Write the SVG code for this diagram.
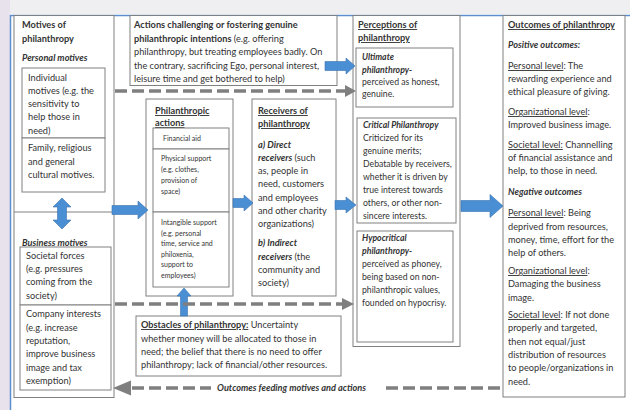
<svg xmlns="http://www.w3.org/2000/svg" width="630" height="410" viewBox="0 0 630 410">
<style>
.t{font-family:Lato,"Liberation Sans",sans-serif;font-size:9.2px;fill:#333}
.p{font-size:8.7px}
.s{font-size:7px}
.b{font-weight:700}
.i{font-style:italic}
.u{text-decoration:underline}
.box{fill:#fff;stroke:#808080;stroke-width:1}
.ar{fill:#4a8fd4;stroke:#3a72b0;stroke-width:0.6}
.dash{stroke:#7f7f7f;stroke-width:3.5;stroke-dasharray:12 5;fill:none}
.head{fill:#7f7f7f}
</style>
<rect x="0" y="0" width="630" height="410" fill="#fff"/>
<rect x="0" y="0" width="630" height="14" fill="#efeef1"/>
<rect x="0" y="0" width="10" height="410" fill="#e7e2ec"/>
<line x1="10" y1="15.5" x2="630" y2="15.5" stroke="#5b8fcf" stroke-width="1.5"/>
<line x1="10.5" y1="15" x2="10.5" y2="410" stroke="#5b8fcf" stroke-width="1.5"/>

<g id="motives">
<rect class="box" x="14" y="15.5" width="100" height="382"/>
<text class="t b" x="22" y="28">Motives of</text>
<text class="t b" x="22" y="42">philanthropy</text>
<text class="t b i" x="22" y="61">Personal motives</text>
<rect class="box" x="22" y="68" width="83" height="70"/>
<text class="t" x="28" y="81">Individual</text>
<text class="t" x="28" y="94">motives (e.g. the</text>
<text class="t" x="28" y="107">sensitivity to</text>
<text class="t" x="28" y="120">help those in</text>
<text class="t" x="28" y="134">need)</text>
<rect class="box" x="22" y="138" width="83" height="54"/>
<text class="t" x="28" y="151">Family, religious</text>
<text class="t" x="28" y="165">and general</text>
<text class="t" x="28" y="178">cultural motives.</text>
<line x1="14" y1="212" x2="114" y2="212" stroke="#808080" stroke-width="1"/>
<text class="t b i u" x="22" y="246">Business motives</text>
<rect class="box" x="20" y="247" width="91" height="58"/>
<text class="t" x="26" y="259">Societal forces</text>
<text class="t" x="26" y="272">(e.g. pressures</text>
<text class="t" x="26" y="285">coming from the</text>
<text class="t" x="26" y="299">society)</text>
<rect class="box" x="20" y="305" width="91" height="85"/>
<text class="t" x="26" y="317">Company interests</text>
<text class="t" x="26" y="331">(e.g. increase</text>
<text class="t" x="26" y="344">reputation,</text>
<text class="t" x="26" y="357">improve business</text>
<text class="t" x="26" y="371">image and tax</text>
<text class="t" x="26" y="384">exemption)</text>
</g>

<g id="actions-intentions">
<rect class="box" x="130" y="15.5" width="207" height="70"/>
<text class="t b" x="134" y="28">Actions challenging or fostering genuine</text>
<text class="t" x="134" y="42"><tspan class="b">philanthropic intentions</tspan> (e.g. offering</text>
<text class="t" x="134" y="55">philanthropy, but treating employees badly. On</text>
<text class="t" x="134" y="69">the contrary, sacrificing Ego, personal interest,</text>
<text class="t" x="134" y="82">leisure time and get bothered to help)</text>
</g>

<g id="philanthropic-actions">
<rect class="box" x="146" y="99" width="87" height="197"/>
<text class="t b u" x="155" y="114">Philanthropic</text>
<text class="t b u" x="155" y="126">actions</text>
<rect class="box" x="153" y="128" width="76" height="21"/>
<text class="t s" x="163" y="141">Financial aid</text>
<rect class="box" x="153" y="149" width="76" height="63"/>
<text class="t s" x="161" y="161">Physical support</text>
<text class="t s" x="161" y="172">(e.g. clothes,</text>
<text class="t s" x="161" y="183">provision of</text>
<text class="t s" x="161" y="194">space)</text>
<rect class="box" x="153" y="212" width="76" height="75"/>
<text class="t s" x="161" y="225">Intangible support</text>
<text class="t s" x="161" y="235.5">(e.g.  personal</text>
<text class="t s" x="161" y="246">time, service and</text>
<text class="t s" x="161" y="256.5">philoxenia,</text>
<text class="t s" x="161" y="267">support to</text>
<text class="t s" x="161" y="277.5">employees)</text>
</g>

<g id="receivers">
<rect class="box" x="252" y="99" width="84" height="197"/>
<text class="t b u" x="258" y="114">Receivers of</text>
<text class="t b u" x="258" y="127">philanthropy</text>
<text class="t b i" x="258" y="148">a) Direct</text>
<text class="t" x="258" y="161"><tspan class="b i">receivers</tspan> (such</text>
<text class="t" x="258" y="174">as, people in</text>
<text class="t" x="258" y="187">need, customers</text>
<text class="t" x="258" y="201">and employees</text>
<text class="t" x="258" y="214">and other charity</text>
<text class="t" x="258" y="227">organizations)</text>
<text class="t b i" x="258" y="246">b) Indirect</text>
<text class="t" x="258" y="260"><tspan class="b i">receivers</tspan> (the</text>
<text class="t" x="258" y="273">community and</text>
<text class="t" x="258" y="286">society)</text>
</g>

<g id="perceptions">
<rect class="box" x="353" y="15.5" width="107" height="331"/>
<text class="t b u" x="358" y="28">Perceptions of</text>
<text class="t b u" x="358" y="41">philanthropy</text>
<rect class="box" x="356" y="48" width="97" height="59"/>
<text class="t p b i" x="362" y="60">Ultimate</text>
<text class="t p b i" x="362" y="73">philanthropy-</text>
<text class="t p" x="362" y="85">perceived as honest,</text>
<text class="t p" x="362" y="97">genuine.</text>
<rect class="box" x="357" y="118" width="99" height="105"/>
<text class="t p b i" x="363" y="128">Critical Philanthropy</text>
<text class="t p" x="363" y="141">Criticized for its</text>
<text class="t p" x="363" y="154">genuine merits;</text>
<text class="t p" x="363" y="167">Debatable by receivers,</text>
<text class="t p" x="363" y="180">whether it is driven by</text>
<text class="t p" x="363" y="193">true interest towards</text>
<text class="t p" x="363" y="206">others, or other non-</text>
<text class="t p" x="363" y="219">sincere interests.</text>
<rect class="box" x="357" y="231" width="96" height="111"/>
<text class="t p b i" x="362" y="241">Hypocritical</text>
<text class="t p b i" x="362" y="254">philanthropy-</text>
<text class="t p" x="362" y="267">perceived as phoney,</text>
<text class="t p" x="362" y="280">being based on non-</text>
<text class="t p" x="362" y="293">philanthropic values,</text>
<text class="t p" x="362" y="306">founded on hypocrisy.</text>
</g>

<g id="outcomes">
<rect class="box" x="503" y="15.5" width="122" height="381.5"/>
<text class="t b u" x="508" y="28">Outcomes of philanthropy</text>
<text class="t b i" x="508" y="48">Positive outcomes:</text>
<text class="t" x="508" y="69"><tspan class="u">Personal level</tspan>: The</text>
<text class="t" x="508" y="82">rewarding experience and</text>
<text class="t" x="508" y="95">ethical pleasure of giving.</text>
<text class="t" x="508" y="115"><tspan class="u">Organizational level</tspan>:</text>
<text class="t" x="508" y="128">Improved business image.</text>
<text class="t" x="508" y="148"><tspan class="u">Societal level:</tspan> Channelling</text>
<text class="t" x="508" y="161">of financial assistance and</text>
<text class="t" x="508" y="174">help, to those in need.</text>
<text class="t b i" x="508" y="195">Negative outcomes</text>
<text class="t" x="508" y="216"><tspan class="u">Personal level</tspan>: Being</text>
<text class="t" x="508" y="230">deprived from resources,</text>
<text class="t" x="508" y="243">money, time, effort for the</text>
<text class="t" x="508" y="256">help of others.</text>
<text class="t" x="508" y="274"><tspan class="u">Organizational level</tspan>:</text>
<text class="t" x="508" y="287">Damaging the business</text>
<text class="t" x="508" y="301">image.</text>
<text class="t" x="508" y="318"><tspan class="u">Societal level</tspan>: If not done</text>
<text class="t" x="508" y="331">properly and targeted,</text>
<text class="t" x="508" y="345">then not equal/just</text>
<text class="t" x="508" y="358">distribution of resources</text>
<text class="t" x="508" y="371">to people/organizations in</text>
<text class="t" x="508" y="385">need.</text>
</g>

<g id="obstacles">
<rect class="box" x="136" y="316" width="205" height="60"/>
<text class="t" x="141" y="328"><tspan class="b u">Obstacles of philanthropy:</tspan> Uncertainty</text>
<text class="t" x="141" y="342">whether money will be allocated to those in</text>
<text class="t" x="141" y="355">need; the belief that there is no need to offer</text>
<text class="t" x="141" y="368">philanthropy; lack of financial/other resources.</text>
</g>

<g id="connectors">
<path class="ar" d="M325,61.5 L346,61.5 L346,58 L355,66 L346,74 L346,70.5 L325,70.5 Z"/>
<path class="ar" d="M112,205.5 L138,205.5 L138,201 L148,210 L138,219 L138,214.5 L112,214.5 Z"/>
<path class="ar" d="M233,198.5 L244,198.5 L244,195 L253,203 L244,211 L244,207.5 L233,207.5 Z"/>
<path class="ar" d="M335,200.5 L346,200.5 L346,197 L356,205 L346,213 L346,209.5 L335,209.5 Z"/>
<path class="ar" d="M461,200.5 L490,200.5 L490,194.5 L503,206 L490,217.5 L490,211.5 L461,211.5 Z"/>
<path class="ar" d="M180.5,316 L180.5,296 L177,296 L184,288 L191,296 L187.5,296 L187.5,316 Z"/>
<path class="ar" d="M62,198 L71,207 L66.5,207 L66.5,220 L71,220 L62,229 L53,220 L57.5,220 L57.5,207 L53,207 Z"/>
<line class="dash" x1="115" y1="91" x2="347" y2="91"/>
<path class="head" d="M345,85 L356,91 L345,97 Z"/>
<line class="dash" x1="115" y1="304" x2="344" y2="304"/>
<path class="head" d="M342,298 L354,304 L342,310 Z"/>
<line class="dash" x1="132" y1="388" x2="211" y2="388"/>
<line class="dash" x1="386" y1="388" x2="502" y2="388"/>
<path class="head" d="M131,380.5 L113,388 L131,395.5 Z"/>
<text class="t b i" x="217" y="391">Outcomes feeding motives and actions</text>
</g>
</svg>
